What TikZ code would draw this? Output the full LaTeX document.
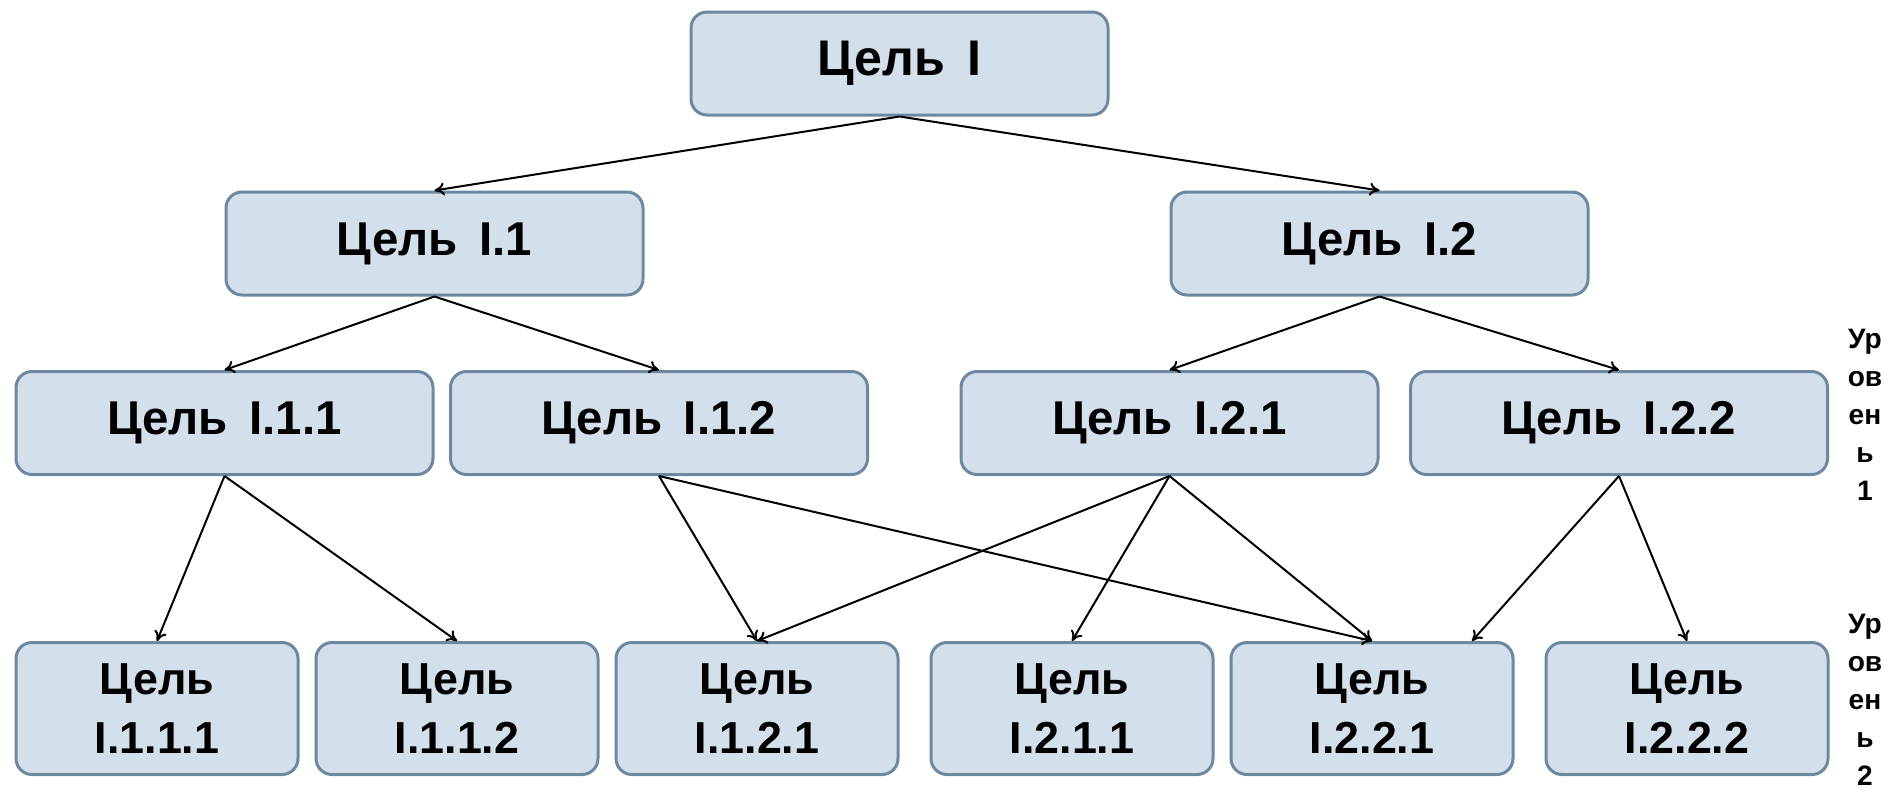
\documentclass[tikz,border=0pt]{standalone}
\usepackage{fontspec}
\setmainfont{Liberation Sans}
\usepackage{tikz}
\usetikzlibrary{arrows.meta}
\tikzset{goal/.style={draw=slatebd,fill=bluebg,line width=.06cm,rounded corners=.32cm,minimum width=8.34cm,minimum height=2.06cm,inner sep=0pt,font=\fontsize{27}{33.5}\selectfont\bfseries},
leaf/.style={goal,minimum width=5.64cm,minimum height=2.64cm,align=center,font=\fontsize{25.5}{33.5}\selectfont\bfseries},
link/.style={-{To[length=2mm,width=2.6mm]},line width=.04cm},
tier/.style={align=center,inner sep=0pt,font=\fontsize{16}{21.6}\selectfont\bfseries}}
\definecolor{bluebg}{HTML}{D3E0EB}
\definecolor{slatebd}{HTML}{6C89A0}

\begin{document}
\begin{tikzpicture}
\useasboundingbox (0,0) rectangle (37.9,-15.78);
\node[goal,font=\fontsize{28.5}{34}\selectfont\bfseries] (g) at (17.99,-1.27) {Цель\hspace{.45em}I};
\node[goal] (g1) at (8.69,-4.87) {Цель\hspace{.45em}I.1};
\node[goal] (g2) at (27.59,-4.87) {Цель\hspace{.45em}I.2};
\foreach \x/\id/\num in {4.49/11/1.1,13.18/12/1.2,23.39/21/2.1,32.38/22/2.2}
\node[goal] (g\id) at (\x,-8.46) {Цель\hspace{.45em}I.\num};
\foreach \x/\id/\num in {3.14/111/1.1.1,9.14/112/1.1.2,15.14/121/1.2.1,21.44/211/2.1.1,27.44/221/2.2.1,33.74/222/2.2.2}
\node[leaf] (g\id) at (\x,-14.17) {Цель\\I.\num};
\foreach \a/\b in {g/g1,g/g2,g1/g11,g1/g12,g2/g21,g2/g22,g11/g111,g11/g112,g12/g121,g12/g221,g21/g121,g21/g211,g21/g221,g22/g222}
\draw[link] (\a.south) -- (\b.north);
\draw[link] (g22.south) -- ([xshift=2cm]g221.north);
\node[tier] (t1) at (37.3,-8.29) {Ур\\ов\\ен\\ь\\1};
\node[tier] (t2) at (37.3,-14.0) {Ур\\ов\\ен\\ь\\2};
\end{tikzpicture}
\end{document}
